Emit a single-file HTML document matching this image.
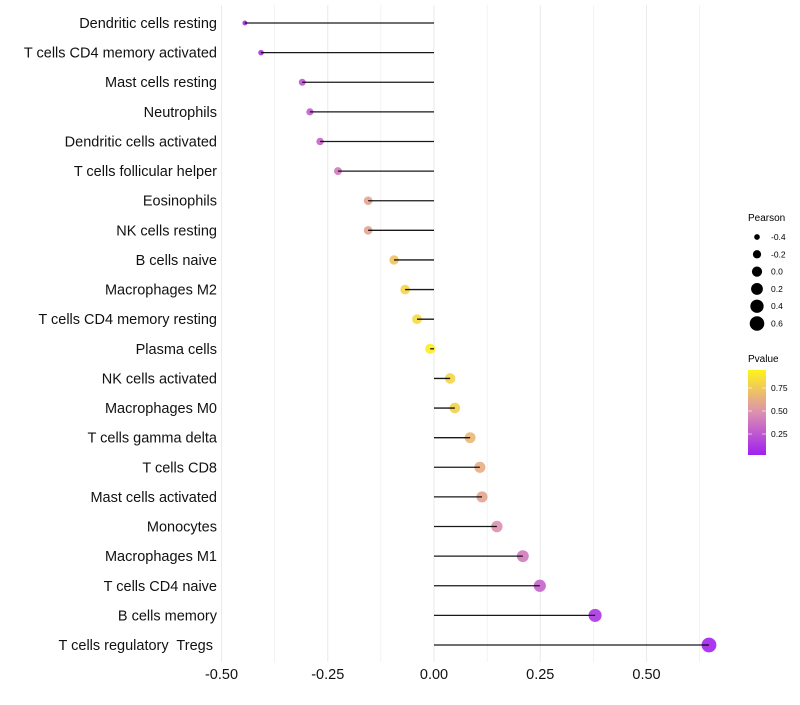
<!DOCTYPE html>
<html><head><meta charset="utf-8"><style>
body{margin:0;background:#fff;font-family:"Liberation Sans",sans-serif}
text{white-space:pre}
</style></head><body>
<svg id="chart" width="800" height="700" xmlns="http://www.w3.org/2000/svg">
<defs><linearGradient id="pg" x1="0" y1="1" x2="0" y2="0">
<stop offset="0" stop-color="#a020f0"/><stop offset="0.5" stop-color="#dc90b0"/><stop offset="1" stop-color="#fff31a"/></linearGradient></defs>
<g id="grid"></g><g id="marks"></g><g id="ylab"></g><g id="xlab"></g>
<g id="legS">
<text x="748" y="221" font-size="10">Pearson</text></g>
<g>
<text x="748" y="362" font-size="10">Pvalue</text>
<rect x="748" y="370" width="18" height="85" fill="url(#pg)"/>
<line x1="748" x2="752" y1="388" y2="388" stroke="#fff" stroke-opacity=".6"/><line x1="762" x2="766" y1="388" y2="388" stroke="#fff" stroke-opacity=".6"/>
<line x1="748" x2="752" y1="411" y2="411" stroke="#fff" stroke-opacity=".6"/><line x1="762" x2="766" y1="411" y2="411" stroke="#fff" stroke-opacity=".6"/>
<line x1="748" x2="752" y1="434" y2="434" stroke="#fff" stroke-opacity=".6"/><line x1="762" x2="766" y1="434" y2="434" stroke="#fff" stroke-opacity=".6"/>
<text x="771" y="391" font-size="8.5">0.75</text><text x="771" y="414" font-size="8.5">0.50</text><text x="771" y="437" font-size="8.5">0.25</text>
</g>
</svg>
<script>
const categories=["Dendritic cells resting","T cells CD4 memory activated","Mast cells resting","Neutrophils","Dendritic cells activated","T cells follicular helper","Eosinophils","NK cells resting","B cells naive","Macrophages M2","T cells CD4 memory resting","Plasma cells","NK cells activated","Macrophages M0","T cells gamma delta","T cells CD8","Mast cells activated","Monocytes","Macrophages M1","T cells CD4 naive","B cells memory","T cells regulatory  Tregs "];
const pearson=[-0.445,-0.407,-0.31,-0.292,-0.268,-0.226,-0.155,-0.155,-0.094,-0.068,-0.04,-0.009,0.038,0.049,0.085,0.108,0.113,0.148,0.209,0.249,0.379,0.647];
const pvalue=[0.03,0.08,0.25,0.28,0.3,0.4,0.6,0.6,0.75,0.85,0.88,0.97,0.85,0.83,0.7,0.65,0.6,0.5,0.4,0.3,0.1,0.02];
const xTicks=[-0.5,-0.25,0,0.25,0.5];
const xTickLabels=["-0.50","-0.25","0.00","0.25","0.50"];
const sizeLegend=[-0.4,-0.2,0,0.2,0.4,0.6];
const sizeLegendLabels=["-0.4","-0.2","0.0","0.2","0.4","0.6"];
const NS="http://www.w3.org/2000/svg";
const xs=v=>434+v*425;
const ys=i=>23+i*(622/(categories.length-1));
const rs=v=>Math.sqrt(Math.max(2,26+45*v));
function lerp(a,b,t){return a.map((c,i)=>Math.round(c+(b[i]-c)*t));}
function col(p){const s=[[160,32,240],[220,144,176],[255,243,26]];const c=p<.5?lerp(s[0],s[1],p/.5):lerp(s[1],s[2],(p-.5)/.5);return `rgb(${c})`;}
function mk(tag,at,par){const e=document.createElementNS(NS,tag);for(const k in at)e.setAttribute(k,at[k]);document.getElementById(par).appendChild(e);return e;}
for(let v=-0.5;v<=0.63;v+=0.125){
 const g=mk("line",{x1:xs(v),x2:xs(v),y1:5,y2:662,stroke:"#ebebeb","stroke-width":Math.abs(v*4-Math.round(v*4))<1e-6?1.1:0.6},"grid");
 
 
}
categories.forEach((c,i)=>{
 const y=ys(i);
 const pt=mk("circle",{cx:xs(pearson[i]),cy:y,r:rs(pearson[i]),fill:col(pvalue[i]),"fill-opacity":.9},"marks");
 
 
 const ln=mk("line",{x1:xs(0),x2:xs(pearson[i]),y1:y,y2:y,stroke:"#000","stroke-width":1.3,"stroke-opacity":.9},"marks");
 
 
 const t=mk("text",{x:217,y:y+5,"text-anchor":"end","font-size":14.5,fill:"#111"},"ylab");
 t.textContent=c;
 
 
});
xTicks.forEach((v,i)=>{
 const t=mk("text",{x:xs(v),y:679,"text-anchor":"middle","font-size":14.5,fill:"#111"},"xlab");
 t.textContent=xTickLabels[i];
 
 
});
sizeLegend.forEach((v,i)=>{
 const y=237+i*17.3;
 const c=mk("circle",{cx:757,cy:y,r:rs(v),fill:"#000"},"legS");
 
 
 const t=mk("text",{x:771,y:y+3,"font-size":8.5},"legS");
 t.textContent=sizeLegendLabels[i];
 
 
});
</script>
</body></html>
